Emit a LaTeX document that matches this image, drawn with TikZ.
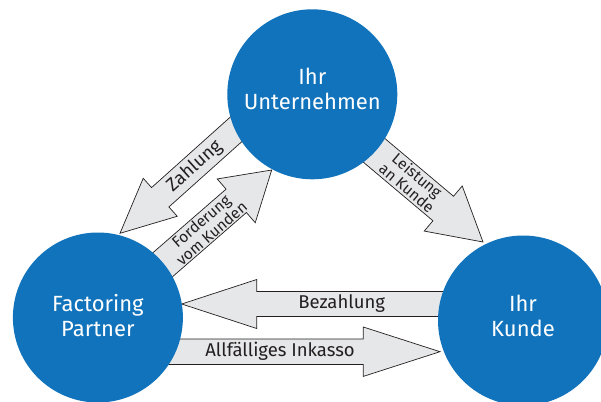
\documentclass[tikz,border=0pt]{standalone}
\usepackage{fontspec}
\setmainfont{Fira Sans}
\usetikzlibrary{calc,backgrounds}
\definecolor{circblue}{RGB}{17,115,187}
\definecolor{arrgray}{RGB}{230,231,232}
\definecolor{arrline}{RGB}{35,31,32}
\newcommand\blockarrow[5]{%
  \coordinate (hb) at ($(#2)!#5!(#1)$);
  \draw[blockarr] ($(#1)!#3!90:(#2)$) -- ($(hb)!#3!90:(#2)$) -- ($(hb)!#4!90:(#2)$) -- (#2)
     -- ($(hb)!#4!-90:(#2)$) -- ($(hb)!#3!-90:(#2)$) -- ($(#1)!#3!-90:(#2)$) -- cycle;}
\begin{document}
\begin{tikzpicture}[x=1pt,y=-1pt,
  party/.style={circle,fill=circblue,minimum size=170pt,inner sep=0pt},
  ptext/.style={text=white,align=center,inner sep=0pt,font=\fontsize{22}{25}\selectfont},
  blockarr/.style={fill=arrgray,draw=arrline,line width=0.7pt,line join=miter},
  lab/.style={inner sep=0pt,text=arrline,font=\fontsize{18.5}{20}\selectfont},
  lab2/.style={inner sep=0pt,text=arrline,align=center,font=\fontsize{15.5}{14}\selectfont}]
\useasboundingbox (0,0) rectangle (601,401);
\node[party] (T) at (312.3,94.3) {};
\node[party] (L) at (97.9,317.5) {};
\node[party] (R) at (523,320.5) {};
\node[ptext] (Tt) at (312.3,88.5) {Ihr\\Unternehmen};
\node[ptext] (Lt) at (97.9,316) {Factoring\\Partner};
\node[ptext] (Rt) at (523,316) {Ihr\\Kunde};
\coordinate (zT) at (120,233.3);
\coordinate (zS) at (254.1,113.2);
\coordinate (fT) at (271.7,170);
\coordinate (fS) at (135.8,288.1);
\coordinate (lT) at (483,242);
\coordinate (lS) at (345.3,126.1);
\coordinate (bT) at (181.7,304);
\coordinate (bS) at (530,304);
\coordinate (iT) at (440,351.7);
\coordinate (iS) at (60,351.7);
\begin{pgfonlayer}{background}
\blockarrow{zS}{zT}{13pt}{25.5pt}{54pt}
\blockarrow{fS}{fT}{15.5pt}{29pt}{47pt}
\blockarrow{lS}{lT}{16pt}{29.5pt}{52pt}
\blockarrow{bS}{bT}{12.5pt}{24.5pt}{75pt}
\blockarrow{iS}{iT}{12.7pt}{24.7pt}{76.7pt}
\end{pgfonlayer}
\node[lab,rotate=41.8] (zl) at (194.5,166.6) {Zahlung};
\node[lab2,rotate=41] (fl) at (206.2,227.2) {Forderung\\vom Kunden};
\node[lab2,rotate=-40] (ll) at (412.2,181.5) {Leistung\\an Kunde};
\node[lab] (bl) at (341.7,303.5) {Bezahlung};
\node[lab] (il) at (280,351.7) {Allfälliges Inkasso};
\end{tikzpicture}
\end{document}
